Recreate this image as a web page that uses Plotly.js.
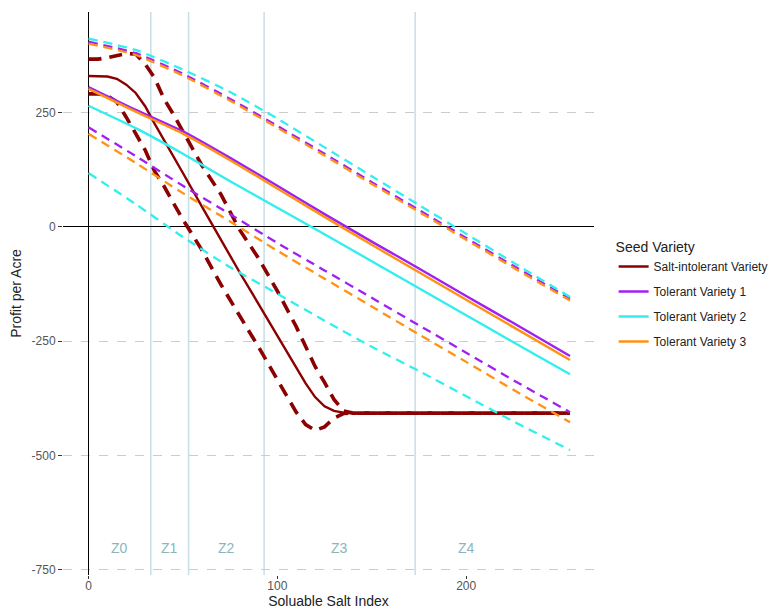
<!DOCTYPE html>
<html>
<head>
<meta charset="utf-8">
<script src="https://cdn.plot.ly/plotly-3.0.1.min.js"></script>
<style>html,body{margin:0;padding:0;background:#fff;}#chart{width:784px;height:609px;}</style>
</head>
<body>
<div id="chart"></div>
<script>
// ---- data ----
const xTol = [0, 25, 50, 75, 100, 125, 150, 175, 200, 225, 255];
const tol1   = [306, 256, 209, 151, 90, 28, -32, -91, -151, -210, -282];
const tol1Lo = [218, 155, 90, 28, -35, -95, -155, -215, -275, -335, -405];
const tol1Hi = [405, 380, 335, 280, 221, 160, 98, 37, -24, -85, -157];
const tol2   = [265, 216, 160, 100, 42, -16, -75, -134, -193, -252, -322];
const tol2Lo = [118, 50, -22, -88, -146, -205, -262, -315, -370, -425, -488];
const tol2Hi = [412, 387, 344, 295, 237, 174, 111, 48, -15, -78, -153];
const tol3   = [302, 252, 204, 146, 84, 22, -39, -99, -159, -219, -291];
const tol3Lo = [204, 140, 74, 12, -52, -113, -174, -235, -295, -356, -427];
const tol3Hi = [401, 376, 331, 276, 217, 156, 94, 33, -28, -89, -161];

const xSalt  = [0, 5, 10, 15, 20, 25, 30, 35, 40, 45, 50, 60, 70, 80, 90, 100, 110, 115, 120, 125, 130, 135, 140, 160, 180, 200, 220, 240, 255];
const salt   = [330, 330, 329, 324, 311, 293, 264, 226, 191, 155, 118, 45, -28, -99, -168, -238, -308, -342, -372, -392, -402, -406, -407, -407, -407, -407, -407, -407, -407];
const saltHi = [367, 367, 370, 375, 379, 378, 356, 326, 280, 246, 208, 135, 72, -6, -68, -140, -218, -262, -305, -340, -377, -402, -407, -407, -407, -407, -407, -407, -407];
const saltLo = [291, 291, 287, 273, 240, 205, 168, 122, 89, 52, 16, -50, -125, -194, -262, -334, -405, -432, -445, -437, -418, -408, -407, -407, -407, -407, -407, -407, -407];

const seriesNames = ['Salt-intolerant Variety', 'Tolerant Variety 1', 'Tolerant Variety 2', 'Tolerant Variety 3'];
const seriesColors = ['#8B0000', '#A020F0', '#33EEEE', '#FF9214'];

const zoneBreaks = [33, 53, 93, 173];
const zoneLabels = ['Z0', 'Z1', 'Z2', 'Z3', 'Z4'];
const zoneLabelX = [16.5, 43, 73, 133, 200];
const zoneLabelY = -702;

const yTicks = [-750, -500, -250, 0, 250];
const xTicks = [0, 100, 200];

// ---- traces ----
const groups = [
  {x: xSalt, mid: salt, lo: saltLo, hi: saltHi},
  {x: xTol, mid: tol1, lo: tol1Lo, hi: tol1Hi},
  {x: xTol, mid: tol2, lo: tol2Lo, hi: tol2Hi},
  {x: xTol, mid: tol3, lo: tol3Lo, hi: tol3Hi}
];
const traces = [];
groups.forEach((g, i) => {
  const isSalt = i === 0;
  const shape = isSalt ? 'linear' : 'spline';
  const dashW = isSalt ? 3.6 : 2.3;
  const dash = isSalt ? '13px,8px' : '9px,6px';
  [g.lo, g.hi].forEach(arr => {
    traces.push({
      type: 'scatter', mode: 'lines', x: g.x, y: arr,
      line: {color: seriesColors[i], width: dashW, dash: dash, shape: shape, smoothing: 0.6},
      showlegend: false, legendgroup: 'g' + i, hoverinfo: 'skip'
    });
  });
  traces.push({
    type: 'scatter', mode: 'lines', x: g.x, y: g.mid, name: seriesNames[i],
    line: {color: seriesColors[i], width: 2.4, shape: shape, smoothing: 0.6},
    legendgroup: 'g' + i
  });
});

const shapes = zoneBreaks.map(b => ({
  type: 'line', xref: 'x', yref: 'paper', x0: b, x1: b, y0: 0, y1: 1,
  line: {color: '#C6DFE6', width: 1.5}, layer: 'below'
}));

const annotations = zoneLabels.map((t, i) => ({
  x: zoneLabelX[i], y: zoneLabelY, xref: 'x', yref: 'y', text: t, showarrow: false,
  font: {size: 14, color: '#8AB6BB'}
}));

const font = '"Liberation Sans", Arial, sans-serif';
const layout = {
  width: 784, height: 609,
  margin: {l: 63, r: 189, t: 12, b: 34},
  paper_bgcolor: '#fff', plot_bgcolor: '#fff',
  font: {family: font, color: '#222'},
  xaxis: {
    range: [-13.5, 267.7], tickvals: xTicks, ticktext: xTicks.map(String),
    showgrid: false, zeroline: true, zerolinecolor: '#000', zerolinewidth: 1,
    showline: false, ticks: 'outside', ticklen: 3, tickcolor: '#333',
    ticklabelstandoff: -3,
    tickfont: {size: 12, color: '#555'},
    title: {text: 'Soluable Salt Index', font: {size: 14, color: '#222'}, standoff: 4},
    automargin: false
  },
  yaxis: {
    range: [-761, 470], tickvals: yTicks, ticktext: yTicks.map(String),
    showgrid: true, gridcolor: '#CCCCCC', griddash: 'dash', gridwidth: 1,
    zeroline: true, zerolinecolor: '#000', zerolinewidth: 1,
    showline: false, ticks: 'outside', ticklen: 4, tickcolor: '#333',
    tickfont: {size: 12, color: '#555'},
    title: {text: 'Profit per Acre', font: {size: 14, color: '#222'}, standoff: 6},
    automargin: false
  },
  legend: {
    x: 1.035, y: 0.606, xanchor: 'left', yanchor: 'top',
    font: {size: 12, color: '#222'},
    title: {text: 'Seed Variety', font: {size: 14, color: '#222'}},
    tracegroupgap: 6, bgcolor: 'rgba(0,0,0,0)'
  },
  shapes: shapes,
  annotations: annotations
};

Plotly.newPlot('chart', traces, layout, {displayModeBar: false, staticPlot: true});
</script>
</body>
</html>
